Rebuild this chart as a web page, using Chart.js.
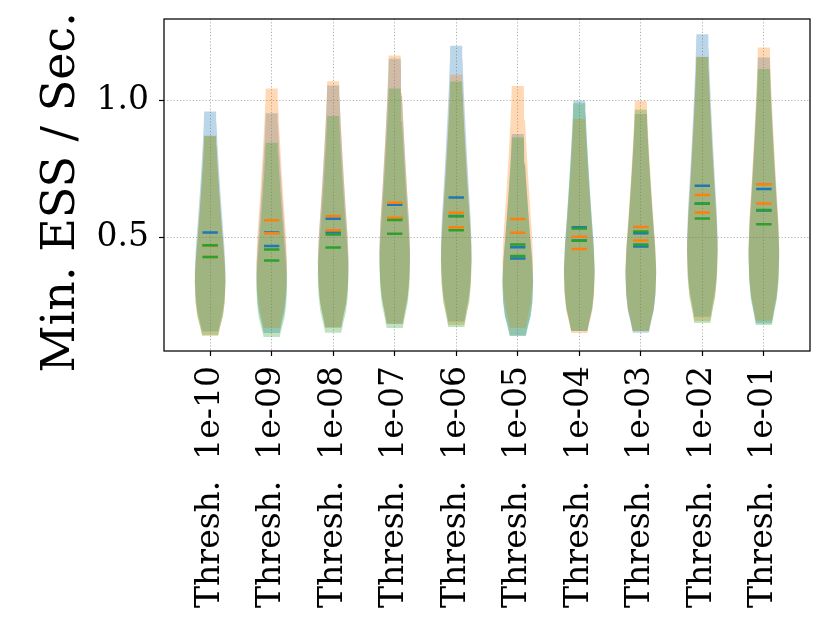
<!DOCTYPE html>
<html>
<head>
<meta charset="utf-8">
<script src="https://cdn.jsdelivr.net/npm/chart.js@4.4.1/dist/chart.umd.min.js"></script>
<style>
  html, body { margin: 0; padding: 0; background: #fff; }
  #wrap { width: 830px; height: 623px; }
</style>
</head>
<body>
<div id="wrap"><canvas id="chartCanvas" width="830" height="623"></canvas></div>
<script>
// thresholds on the x axis
const thresholds = ['1e-10', '1e-09', '1e-08', '1e-07', '1e-06', '1e-05', '1e-04', '1e-03', '1e-02', '1e-01'];
const yTicks = [0.5, 1.0];

// extent of each violin (min / max of the samples)
const blueMin = [0.156, 0.151, 0.171, 0.185, 0.193, 0.141, 0.158, 0.152, 0.210, 0.186];
const blueMax = [0.960, 0.954, 1.055, 1.153, 1.200, 0.878, 1.000, 0.951, 1.242, 1.157];
const orangeMin = [0.142, 0.169, 0.171, 0.185, 0.180, 0.170, 0.151, 0.158, 0.195, 0.196];
const orangeMax = [0.870, 1.044, 1.071, 1.165, 1.094, 1.053, 0.933, 0.999, 1.160, 1.194];
const greenMin = [0.142, 0.136, 0.152, 0.169, 0.173, 0.141, 0.158, 0.158, 0.187, 0.180];
const greenMax = [0.871, 0.846, 0.944, 1.044, 1.070, 0.865, 0.990, 0.966, 1.159, 1.115];

// the two short bars drawn on each violin
const blueMarkA = [0.518, 0.518, 0.568, 0.619, 0.646, 0.464, 0.537, 0.515, 0.689, 0.677];
const blueMarkB = [0.470, 0.469, 0.518, 0.570, 0.578, 0.423, 0.489, 0.467, 0.624, 0.598];
const orangeMarkA = [0.470, 0.563, 0.578, 0.627, 0.590, 0.567, 0.502, 0.538, 0.655, 0.694];
const orangeMarkB = [0.428, 0.515, 0.526, 0.572, 0.537, 0.517, 0.458, 0.489, 0.591, 0.624];
const greenMarkA = [0.471, 0.456, 0.511, 0.564, 0.577, 0.474, 0.533, 0.522, 0.623, 0.600];
const greenMarkB = [0.428, 0.416, 0.463, 0.513, 0.526, 0.432, 0.488, 0.474, 0.569, 0.548];

// density outline: relative height (0 = min, 1 = max) -> relative width
const violinF = [0, 0.04, 0.10, 0.17, 0.27, 0.38, 0.50, 0.62, 0.74, 0.86, 0.95, 1];
const violinW = [0.52, 0.64, 0.84, 0.95, 1.00, 0.93, 0.80, 0.68, 0.57, 0.47, 0.41, 0.39];

const maxHalf = 0.25;   // half of the violin width, in x units
const markHalf = 0.125;
const serif = '"DejaVu Serif", serif';

function violinPoints(i, lo, hi) {
    const right = violinF.map((f, k) => ({ x: i + maxHalf * violinW[k], y: lo + f * (hi - lo) }));
    const left = right.slice().reverse().map(p => ({ x: 2 * i - p.x, y: p.y }));
    return right.concat(left);
}

function violinDatasets(mins, maxs, color, order) {
    return mins.map((lo, i) => ({
        type: 'scatter',
        data: violinPoints(i, lo, maxs[i]),
        showLine: true,
        fill: 'shape',
        backgroundColor: color,
        borderColor: 'rgba(0,0,0,0)',
        borderWidth: 0,
        pointRadius: 0,
        tension: 0,
        order: order
    }));
}

function markerDataset(listA, listB, color, order) {
    const pts = [];
    [listA, listB].forEach(list => {
        list.forEach((v, i) => {
            pts.push({ x: i - markHalf, y: v }, { x: i + markHalf, y: v }, { x: i, y: null });
        });
    });
    return {
        type: 'scatter',
        data: pts,
        showLine: true,
        spanGaps: false,
        borderColor: color,
        borderWidth: 2.5,
        pointRadius: 0,
        fill: false,
        order: order
    };
}

const datasets = [].concat(
    violinDatasets(blueMin, blueMax, 'rgba(31,119,180,0.3)', 6),
    violinDatasets(orangeMin, orangeMax, 'rgba(255,127,14,0.3)', 5),
    violinDatasets(greenMin, greenMax, 'rgba(44,160,44,0.3)', 4),
    [
        markerDataset(blueMarkA, blueMarkB, '#1f77b4', 3),
        markerDataset(orangeMarkA, orangeMarkB, '#ff7f0e', 2),
        markerDataset(greenMarkA, greenMarkB, '#2ca02c', 1)
    ]
);

// black box round the plot area
const framePlugin = {
    id: 'frame',
    afterDatasetsDraw(chart) {
        const { ctx, chartArea: a } = chart;
        ctx.save();
        ctx.strokeStyle = '#000';
        ctx.lineWidth = 1.25;
        ctx.strokeRect(a.left, a.top, a.right - a.left, a.bottom - a.top);
        ctx.restore();
    }
};

const ctx = document.getElementById('chartCanvas').getContext('2d');
new Chart(ctx, {
    type: 'scatter',
    data: { datasets: datasets },
    options: {
        responsive: false,
        animation: false,
        devicePixelRatio: 1,
        layout: { padding: { top: 19, right: 20, left: 0, bottom: 0 } },
        plugins: { legend: { display: false }, tooltip: { enabled: false } },
        scales: {
            x: {
                type: 'linear',
                min: -0.75,
                max: 9.75,
                afterBuildTicks: (scale) => { scale.ticks = thresholds.map((t, i) => ({ value: i })); },
                afterFit: (scale) => {
                    scale.height = 272;
                    scale.paddingLeft = 0;
                    scale.paddingRight = 0;
                },
                ticks: {
                    autoSkip: false,
                    minRotation: 90,
                    maxRotation: 90,
                    padding: 10,
                    color: '#000',
                    font: { family: serif, size: 33 },
                    callback: (v) => 'Thresh.  ' + thresholds[v]
                },
                grid: { color: '#b0b0b0', lineWidth: 1, tickColor: '#000', tickLength: 5, tickWidth: 1.2 },
                border: { display: false, dash: [1.2, 2] }
            },
            y: {
                type: 'linear',
                min: 0.085,
                max: 1.298,
                afterBuildTicks: (scale) => { scale.ticks = yTicks.map(v => ({ value: v })); },
                afterFit: (scale) => {
                    scale.width = 164;
                    scale.paddingTop = 0;
                    scale.paddingBottom = 0;
                },
                ticks: {
                    padding: 10,
                    color: '#000',
                    font: { family: serif, size: 33 },
                    callback: (v) => v.toFixed(1)
                },
                grid: { color: '#b0b0b0', lineWidth: 1, tickColor: '#000', tickLength: 5, tickWidth: 1.2 },
                border: { display: false, dash: [1.2, 2] },
                title: {
                    display: true,
                    text: 'Min. ESS / Sec. ',
                    color: '#000',
                    font: { family: serif, size: 46 },
                    padding: { top: 34, bottom: 0 }
                }
            }
        }
    },
    plugins: [framePlugin]
});
</script>
</body>
</html>
